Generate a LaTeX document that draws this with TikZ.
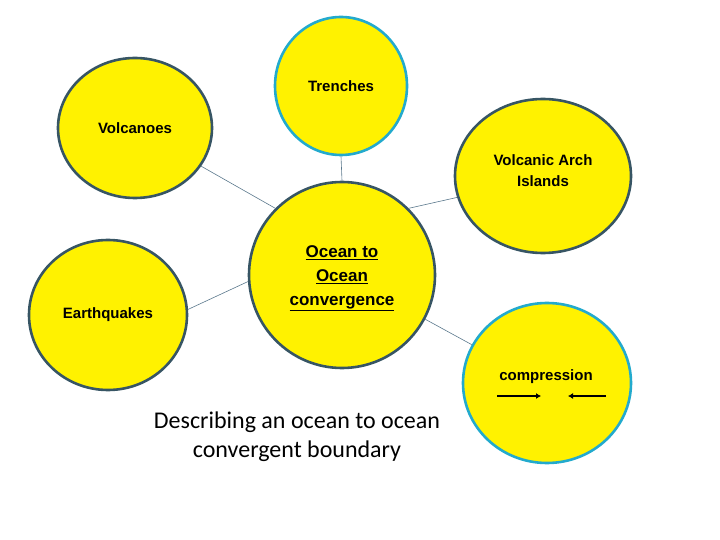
\documentclass[tikz,border=0pt]{standalone}
\usepackage{fontspec}
\setmainfont{Carlito}
\newfontfamily\labelfont{Liberation Sans}
\usetikzlibrary{shapes.geometric,arrows.meta}
\definecolor{rimdark}{RGB}{55,85,100}
\definecolor{rimblue}{RGB}{35,170,205}
\definecolor{linkgrey}{RGB}{90,120,140}
\begin{document}
\begin{tikzpicture}[x=1pt,y=-1pt,
  bubble/.style={draw=rimdark, line width=2.6pt, fill=yellow, ellipse, inner sep=0pt, font=\labelfont\bfseries\fontsize{15}{21}\selectfont, align=center},
  bluebubble/.style={bubble, draw=rimblue},
  tag/.style={font=\labelfont\bfseries\fontsize{15}{21}\selectfont, align=center},
  link/.style={draw=linkgrey, line width=0.6pt}]
\useasboundingbox (0,0) rectangle (720,540);
\node[bubble, minimum width=186pt, minimum height=186pt] (ocean) at (342,275) {};
\node[tag, font=\labelfont\bfseries\fontsize{17}{24}\selectfont] (oceantext) at (342,278) {\underline{Ocean to}\\\underline{Ocean}\\\underline{convergence}};
\node[bluebubble, minimum width=132pt, minimum height=138pt] (trench) at (341,86) {Trenches};
\node[bubble, minimum width=154pt, minimum height=140pt] (volc) at (135,128) {Volcanoes};
\node[bubble, minimum width=176pt, minimum height=154pt] (arch) at (543,176) {};
\node[tag] (archtext) at (543,171) {Volcanic Arch\\Islands};
\node[bubble, minimum width=158pt, minimum height=150pt] (quake) at (108,315) {Earthquakes};
\node[bluebubble, minimum width=168pt, minimum height=160pt] (press) at (547,383) {};
\node[tag] (presstext) at (546,377) {compression};
\coordinate (pl1) at (497,396);
\coordinate (pl2) at (541,396);
\coordinate (pr1) at (606,396);
\coordinate (pr2) at (568,396);
\path[draw,line width=1.6pt,-{Latex[length=5pt,width=6pt]}] (pl1) -- (pl2);
\path[draw,line width=1.6pt,-{Latex[length=5pt,width=6pt]}] (pr1) -- (pr2);
\node[font=\fontsize{24}{29}\selectfont, align=center] (title) at (297,437) {Describing an ocean to ocean\\convergent boundary};
\path[link] (volc.-30) -- (ocean.135);
\path[link] (trench.south) -- (ocean.north);
\path[link] (ocean.45) -- (arch.194);
\path[link] (quake.4) -- (ocean.184);
\path[link] (ocean.-28) -- (press.153);
\end{tikzpicture}
\end{document}
